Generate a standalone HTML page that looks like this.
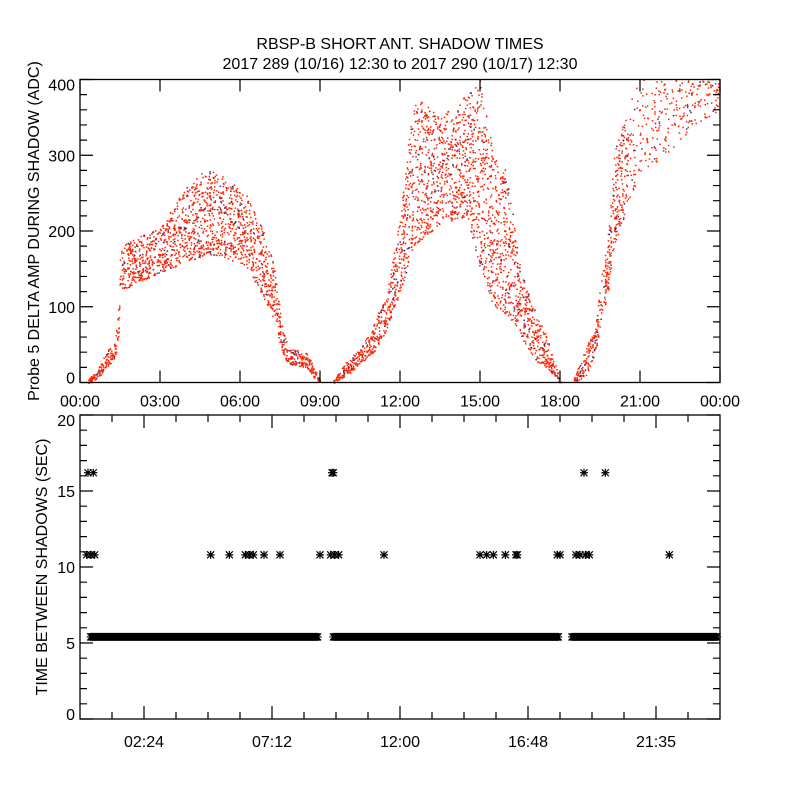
<!DOCTYPE html>
<html><head><meta charset="utf-8"><style>
html,body{margin:0;padding:0;background:#fff;}
svg{display:block;font-family:"Liberation Sans",sans-serif;}
text{fill:#000;font-size:16px;}
</style></head><body>
<svg id="chart" width="800" height="800" viewBox="0 0 800 800">
<text x="400" y="49" text-anchor="middle">RBSP-B SHORT ANT. SHADOW TIMES</text>
<text x="400" y="69" text-anchor="middle">2017 289 (10/16) 12:30 to 2017 290 (10/17) 12:30</text>
<g id="topPanel"></g>
<g id="botPanel"></g>
<text transform="translate(39,231) rotate(-90)" text-anchor="middle" font-size="15">Probe 5 DELTA AMP DURING SHADOW (ADC)</text>
<text transform="translate(47,567) rotate(-90)" text-anchor="middle" font-size="15">TIME BETWEEN SHADOWS (SEC)</text>
</svg>
<script>
// ---- data: amplitude band envelope (hours, low, high) ----
const envHours = [0.3,0.6,0.9,1.1,1.2,1.35,1.45,1.5,2,3,4,4.8,5.5,6.3,6.9,7.3,7.55,7.8,8.5,8.8,9.0, 9.5,10,10.5,11,11.5,12,12.5,13.5,14.5,15,15.5,16,16.5,17,17.5,18, 18.5,19,19.3,19.5,19.8,20,20.5,21,22,23,24];
const envLow  = [0,5,15,25,25,40,70,120,130,145,160,170,165,150,110,80,40,25,20,5,0, 0,10,25,40,70,120,180,210,220,150,100,90,60,30,20,0, 0,10,40,70,120,180,230,280,300,340,360];
const envHigh = [5,15,35,50,40,70,110,180,190,205,260,285,270,245,200,150,80,45,40,20,3, 3,30,45,80,120,220,380,350,380,400,300,280,150,100,60,3, 5,50,70,130,200,300,370,400,400,400,400];
const segmentBreaks = [9.0, 18.0];
// ---- data: time between shadows ----
const bandSegments = [[0.4,8.95],[9.5,17.95],[18.45,23.9]];
const bandValue = 5.4;
const midHours = [0.25,0.4,0.55,4.9,5.6,6.2,6.35,6.5,6.9,7.5,9.0,9.4,9.55,9.7,11.4,15.0,15.25,15.5,15.95,16.35,16.4,17.9,18.0,18.6,18.75,18.95,19.1,22.1];
const midValue = 10.8;
const highHours = [0.3,0.5,9.45,9.5,18.9,19.7];
const highValue = 16.2;
const topTickLabels = ["00:00","03:00","06:00","09:00","12:00","15:00","18:00","21:00","00:00"];
const topYTicks = [0,100,200,300,400];
const botTickLabels = ["02:24","07:12","12:00","16:48","21:35"];
const botYTicks = [0,5,10,15,20];

const NS="http://www.w3.org/2000/svg";
function mk(parent,tag,attrs){const e=document.createElementNS(NS,tag);for(const k in attrs)e.setAttribute(k,attrs[k]);parent.appendChild(e);return e;}
const X0=80,X1=720;
const xH=h=>X0+(X1-X0)*h/24;
const T0=79.5,T1=382.5, yT=v=>T1-(T1-T0)*v/400;
const B0=415,B1=719, yB=v=>B1-(B1-B0)*v/20;

// ---- top panel ----
const topG=document.getElementById('topPanel');
let seed=12345;
function rnd(){seed=(Math.imul(seed,1664525)+1013904223)>>>0;return seed/4294967296;}
let dRed="",dBlue="";
for(let i=0;i<envHours.length-1;i++){
  const h0=envHours[i],h1=envHours[i+1];
  if(segmentBreaks.includes(h0)) continue;
  const px0=xH(h0),px1=xH(h1);
  const range=(envHigh[i]+envHigh[i+1]-envLow[i]-envLow[i+1])/2;
  let dens=0.9*Math.sqrt(range+10);
  if(h0>=20.5) dens*=0.35;
  const n=Math.round((px1-px0)*dens);
  for(let k=0;k<n;k++){
    const t=rnd();const h=h0+(h1-h0)*t;
    const lo=envLow[i]+(envLow[i+1]-envLow[i])*t, hi=envHigh[i]+(envHigh[i+1]-envHigh[i])*t;
    const v=lo+(hi-lo)*Math.pow(rnd(),1.1);
    const x=xH(h).toFixed(1),y=yT(v).toFixed(1);
    if(rnd()<0.06) dBlue+=`M${x} ${y}h1.5v1.5h-1.5z`; else dRed+=`M${x} ${y}h1.5v1.5h-1.5z`;
  }
}
let p=mk(topG,'path',{d:dRed,fill:'#ff2000'});


p=mk(topG,'path',{d:dBlue,fill:'#30307a'});



function frame(g,y0,y1,name){
  const r=mk(g,'rect',{x:X0,y:y0,width:X1-X0,height:y1-y0,fill:'none',stroke:'#000','stroke-width':1.3});
  
  
}
frame(topG,T0,T1,'top-plot-frame');
let td="";
topTickLabels.forEach((l,i)=>{const x=xH(i*3);td+=`M${x} ${T1}v-12M${x} ${T0}v12`;
  const t=mk(topG,'text',{x:x,y:T1+24,'text-anchor':'middle'});t.textContent=l;
  
  });
for(let v=0;v<=400;v+=20){const y=yT(v),L=(v%100===0)?13:7;td+=`M${X0} ${y}h${L}M${X1} ${y}h-${L}`;}
topYTicks.forEach(v=>{const t=mk(topG,'text',{x:75,y:yT(v)+(v===0?1:v===400?11:6),'text-anchor':'end'});t.textContent=String(v);
  
  });
p=mk(topG,'path',{d:td,stroke:'#000','stroke-width':1.2,fill:'none'});



// ---- bottom panel ----
const botG=document.getElementById('botPanel');
function star(x,y){return `M${x} ${y-4}v8M${x-4} ${y}h8M${x-3.5} ${y-3.5}l7 7M${x-3.5} ${y+3.5}l7 -7`;}
let sd="";
bandSegments.forEach(s=>{for(let px=xH(s[0]);px<=xH(s[1]);px+=1) sd+=star(px,yB(bandValue));});
midHours.forEach(h=>{sd+=star(xH(h),yB(midValue));});
highHours.forEach(h=>{sd+=star(xH(h),yB(highValue));});
p=mk(botG,'path',{d:sd,stroke:'#000','stroke-width':1.2,fill:'none'});


frame(botG,B0,B1,'bottom-plot-frame');
let bd="";
for(let i=0;i<20;i++){const x=X0+32*i;if(x<=X0||x>=X1)continue;const L=((i-2)%4===0&&i>=2)?13:7;bd+=`M${x} ${B1}v-${L}M${x} ${B0}v${L}`;}
for(let v=0;v<=20;v++){const y=yB(v),L=(v%5===0)?13:7;bd+=`M${X0} ${y}h${L}M${X1} ${y}h-${L}`;}
p=mk(botG,'path',{d:bd,stroke:'#000','stroke-width':1.2,fill:'none'});


botTickLabels.forEach((l,i)=>{const t=mk(botG,'text',{x:144+128*i,y:B1+28,'text-anchor':'middle'});t.textContent=l;
  
  });
botYTicks.forEach(v=>{const t=mk(botG,'text',{x:75,y:yB(v)+(v===0?1:v===20?11:6),'text-anchor':'end'});t.textContent=String(v);
  
  });
</script>
</body></html>
